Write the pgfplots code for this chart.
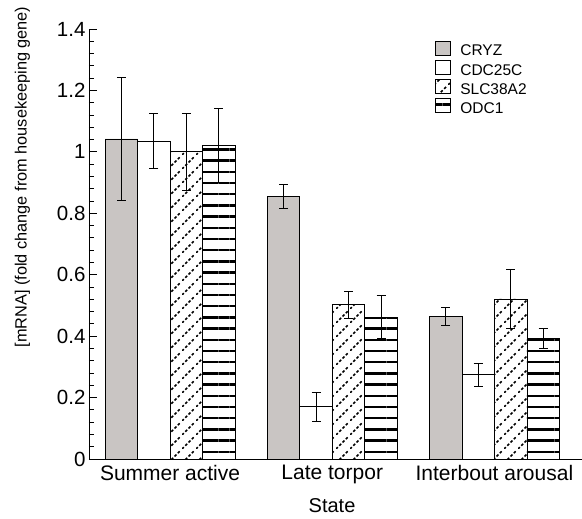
\documentclass[border=0pt]{standalone}
\usepackage{pgfplots}
\pgfplotsset{compat=1.18}
\usepackage{fontspec}
\setmainfont{Liberation Sans}
\usetikzlibrary{patterns,patterns.meta}

\definecolor{cryz}{RGB}{201,197,195}

% dashed diagonal hatching (SLC38A2)
\tikzdeclarepattern{
  name=dashdiag,
  type=uncolored,
  bounding box={(0pt,0pt) and (14pt,14pt)},
  tile size={(14pt,14pt)},
  code={
    \draw[line width=1.6pt, dash pattern=on 2.8pt off 2.15pt] (0pt,0pt) -- (14pt,14pt);
  }
}

\pgfplotsset{
  barkey/.style={
    draw=black, line width=0.8pt,
    error bars/.cd, y dir=both, y explicit,
    error bar style={line width=0.8pt, black},
    error mark options={rotate=90, mark size=4.5pt, line width=0.8pt, black},
    /pgfplots/.cd,
    legend image code/.code={\draw[##1] (0pt,-3pt) rectangle (15pt,11pt); \path (23pt,0pt);}
  }
}

\begin{document}
\begin{tikzpicture}
\useasboundingbox (-89pt,-60pt) rectangle (493pt,459pt);
\begin{axis}[
  at={(0pt,0pt)}, anchor=south west,
  scale only axis, width=493pt, height=430pt,
  ybar=0pt, bar width=32.5pt,
  xmin=-0.5, xmax=2.54, ymin=0, ymax=1.4,
  axis x line=bottom, axis y line=left,
  axis line style={-, line width=0.8pt},
  xtick={0,1,2},
  xticklabels={Summer active, Late torpor, Interbout arousal},
  xtick style={draw=none},
  ytick={0,0.2,0.4,0.6,0.8,1,1.2,1.4},
  minor y tick num=4,
  tick align=inside,
  major tick length=8pt, minor tick length=5pt,
  ytick style={line width=0.8pt, black},
  /pgf/number format/assume math mode=true,
  yticklabel style={font=\fontsize{20.5}{24}\selectfont},
  xticklabel style={font=\fontsize{21}{24}\selectfont, yshift=-3pt},
  xlabel={State},
  xlabel style={font=\fontsize{20}{24}\selectfont, at={(axis description cs:0.493,-0.108)}, anchor=center},
  ylabel={[mRNA] (fold change from housekeeping gene)},
  ylabel style={font=\fontsize{16.3}{19}\selectfont, at={(axis description cs:-0.135,0.656)}, anchor=center},
  legend style={draw=none, fill=none, at={(axis description cs:0.696,0.978)}, anchor=north west,
    font=\fontsize{15.5}{16}\selectfont, row sep=0pt,
    nodes={inner sep=1.2pt, text height=10.5pt, text depth=2.8pt}},
  legend cell align=left,
]
\addplot[barkey, fill=cryz] coordinates {
  (0,1.042) +- (0,0.20)
  (1,0.855) +- (0,0.04)
  (2,0.463) +- (0,0.029)
};
\addplot[barkey, fill=white] coordinates {
  (0,1.035) +- (0,0.09)
  (1,0.170) +- (0,0.048)
  (2,0.274) +- (0,0.037)
};
\addplot[barkey, pattern=dashdiag] coordinates {
  (0,1.000) +- (0,0.125)
  (1,0.502) +- (0,0.043)
  (2,0.521) +- (0,0.097)
};
\addplot[barkey, pattern={Lines[angle=0,distance=11.2pt,line width=2.5pt]}] coordinates {
  (0,1.020) +- (0,0.12)
  (1,0.462) +- (0,0.07)
  (2,0.392) +- (0,0.033)
};
\legend{CRYZ,CDC25C,SLC38A2,ODC1}
\end{axis}
\end{tikzpicture}
\end{document}
